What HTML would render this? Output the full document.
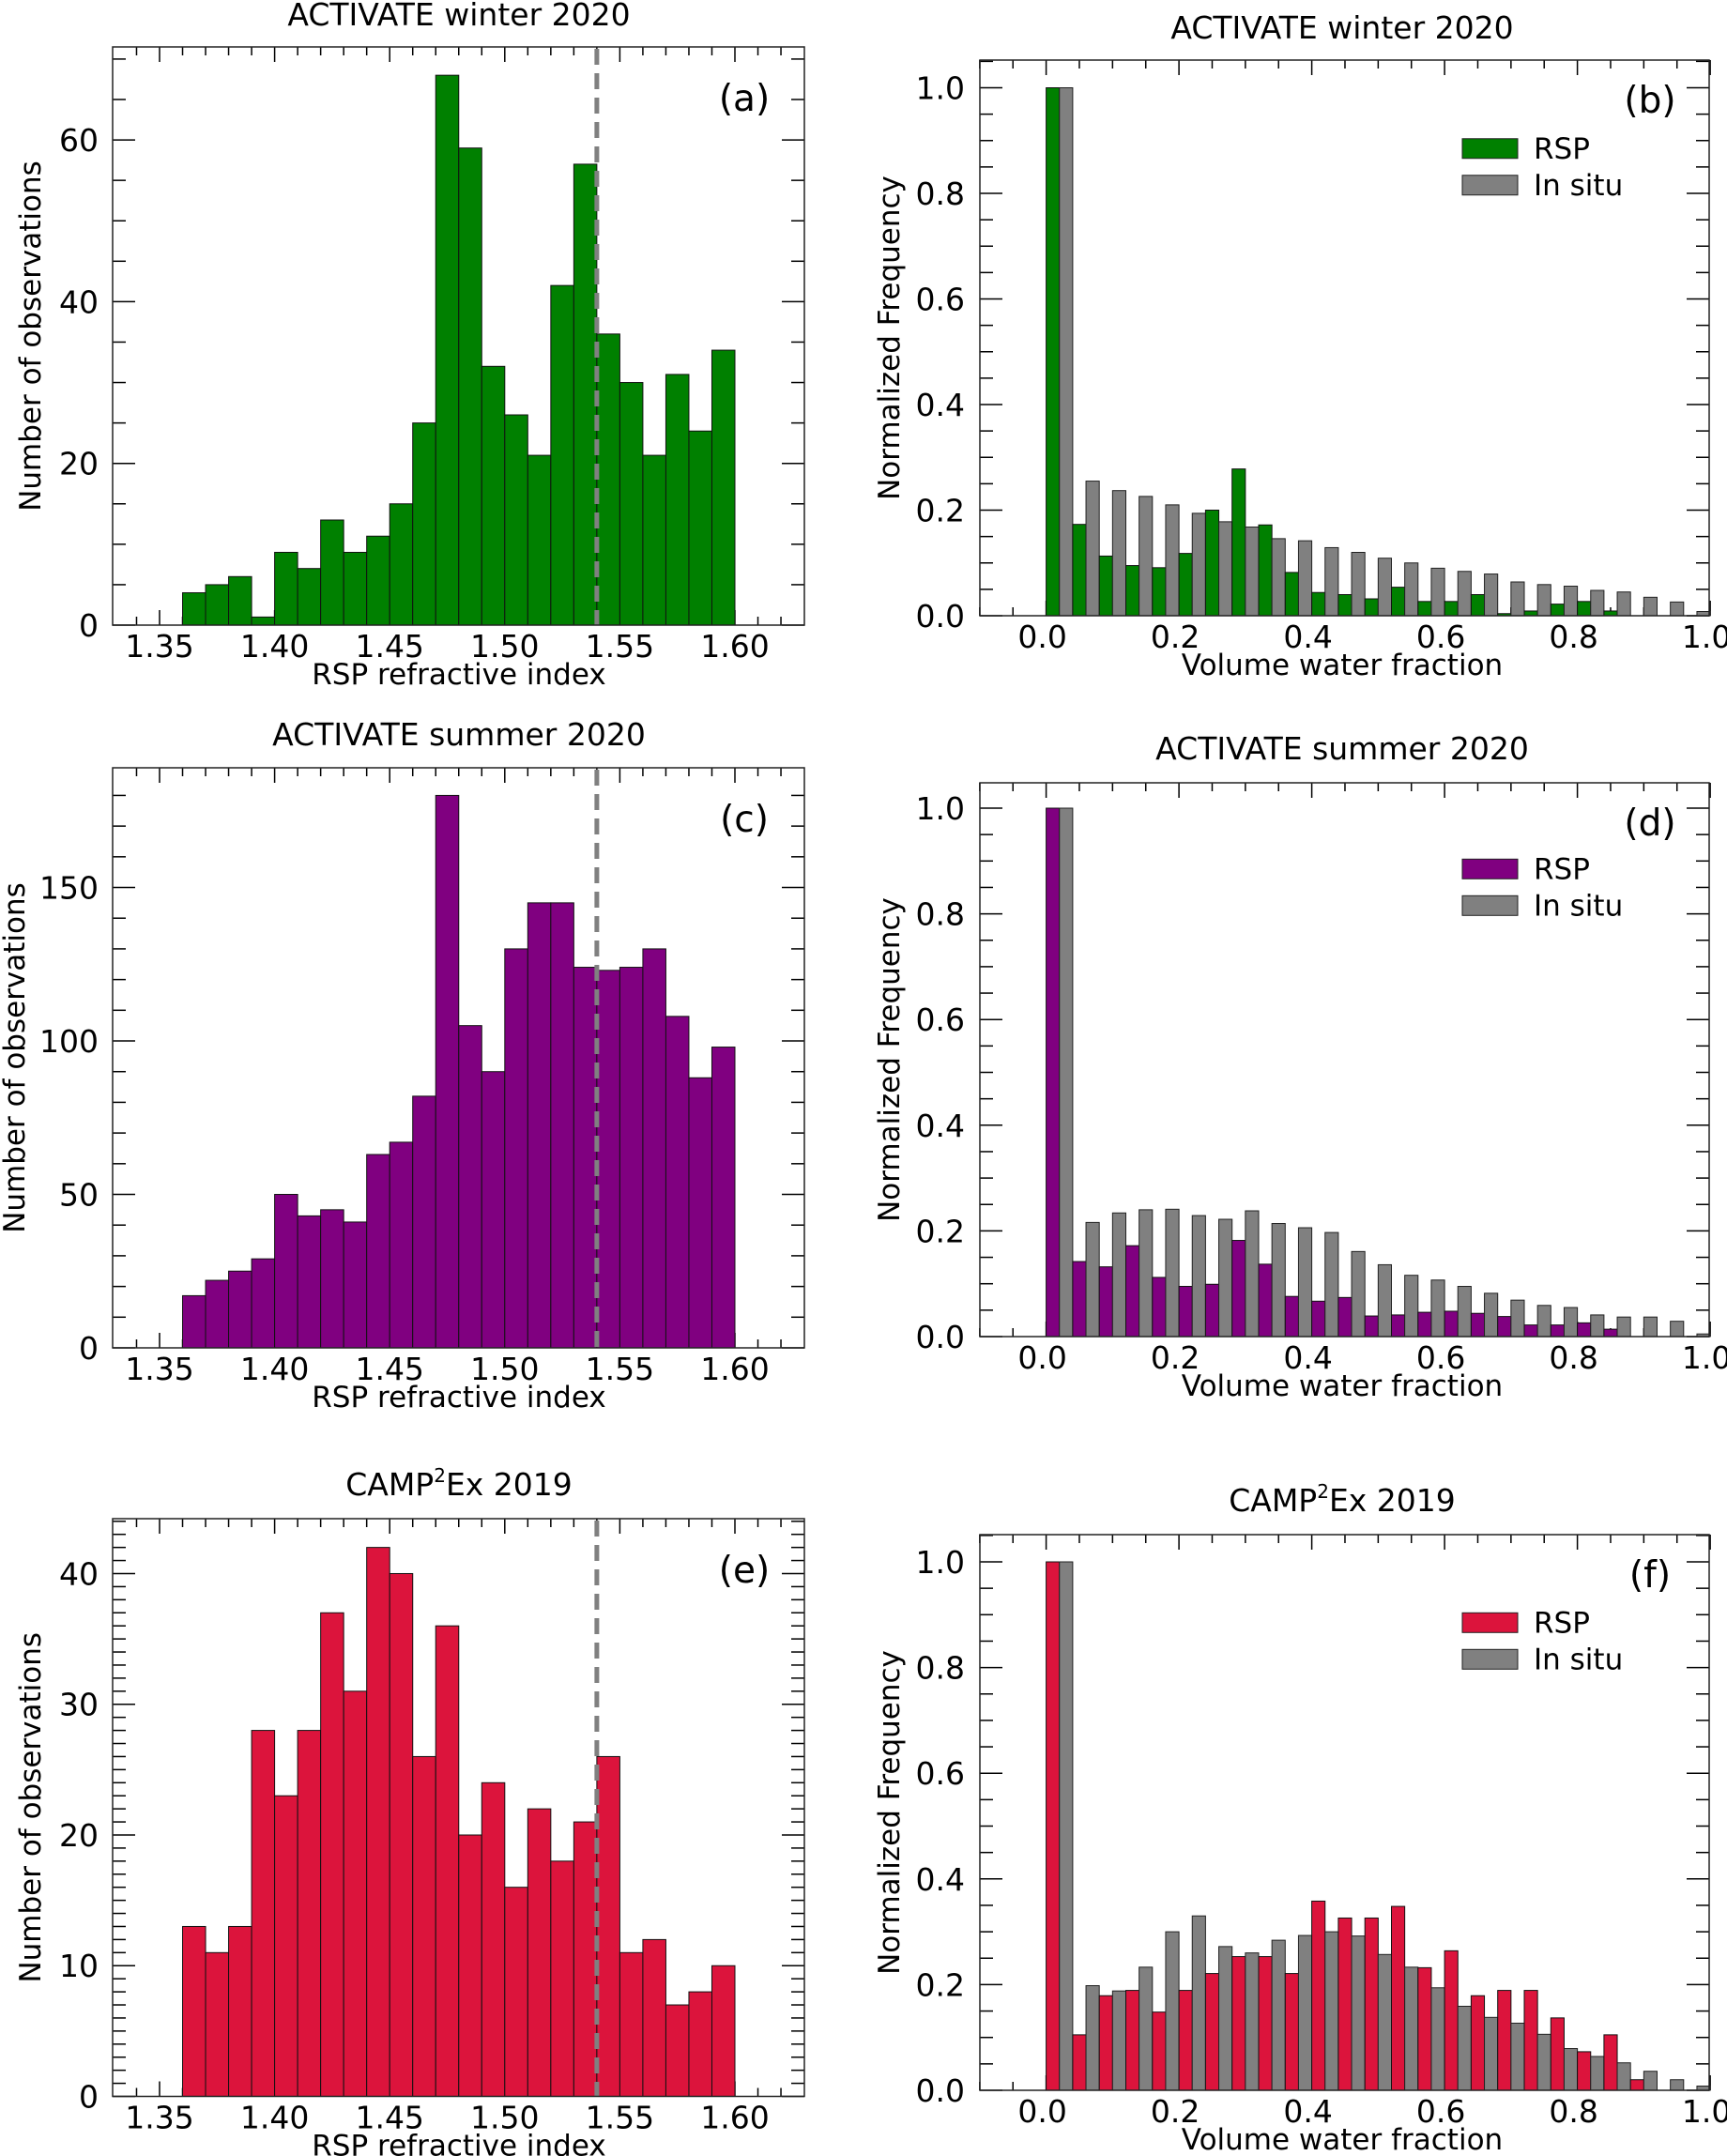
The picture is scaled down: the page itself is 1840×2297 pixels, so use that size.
<!DOCTYPE html>
<html><head><meta charset="utf-8"><style>
html,body{margin:0;padding:0;background:#fff;}
svg{display:block;font-family:"DejaVu Sans","Liberation Sans",sans-serif;}
</style></head><body>
<svg id="fig" xmlns="http://www.w3.org/2000/svg" width="1840" height="2297" viewBox="0 0 1840 2297"></svg>
<script>
// ---- data ----
const riBinStarts = [1.36,1.37,1.38,1.39,1.40,1.41,1.42,1.43,1.44,1.45,1.46,1.47,1.48,1.49,1.50,1.51,1.52,1.53,1.54,1.55,1.56,1.57,1.58,1.59];
const winterCounts = [4,5,6,1,9,7,13,9,11,15,25,68,59,32,26,21,42,57,36,30,21,31,24,34];
const summerCounts = [17,22,25,29,50,43,45,41,63,67,82,180,105,90,130,145,145,124,123,124,130,108,88,98];
const campCounts = [13,11,13,28,23,28,37,31,42,40,26,36,20,24,16,22,18,21,26,11,12,7,8,10];
const fracBinStarts = [0,0.04,0.08,0.12,0.16,0.20,0.24,0.28,0.32,0.36,0.40,0.44,0.48,0.52,0.56,0.60,0.64,0.68,0.72,0.76,0.80,0.84,0.88,0.92,0.96];
const winterRsp = [1.0,0.173,0.113,0.095,0.091,0.118,0.2,0.278,0.172,0.082,0.044,0.04,0.032,0.054,0.027,0.027,0.04,0.004,0.009,0.022,0.027,0.009,0,0,0];
const winterInsitu = [1.0,0.255,0.237,0.226,0.21,0.194,0.178,0.168,0.146,0.142,0.129,0.12,0.109,0.1,0.09,0.084,0.079,0.064,0.059,0.056,0.048,0.045,0.035,0.026,0.008];
const summerRsp = [1.0,0.142,0.132,0.172,0.112,0.095,0.099,0.182,0.137,0.076,0.067,0.074,0.039,0.041,0.046,0.048,0.044,0.038,0.022,0.022,0.026,0.014,0,0,0];
const summerInsitu = [1.0,0.216,0.234,0.24,0.241,0.229,0.222,0.238,0.214,0.206,0.197,0.161,0.136,0.116,0.107,0.095,0.082,0.069,0.059,0.055,0.041,0.037,0.037,0.029,0.005];
const campRsp = [1.0,0.105,0.179,0.189,0.148,0.189,0.221,0.253,0.253,0.221,0.358,0.326,0.326,0.348,0.232,0.264,0.179,0.189,0.189,0.137,0.073,0.105,0.02,0,0];
const campInsitu = [1.0,0.198,0.188,0.233,0.3,0.33,0.272,0.26,0.284,0.293,0.3,0.292,0.257,0.233,0.194,0.159,0.138,0.127,0.106,0.079,0.064,0.052,0.036,0.02,0.008];
const riTickLabels = ["1.35","1.40","1.45","1.50","1.55","1.60"];
const fracTickLabels = ["0.0","0.2","0.4","0.6","0.8","1.0"];
const refLine = 1.54;

const NS="http://www.w3.org/2000/svg";
const svg=document.getElementById('fig');
function mk(tag,attrs,parent){const e=document.createElementNS(NS,tag);for(const k in attrs)e.setAttribute(k,attrs[k]);(parent||svg).appendChild(e);return e;}
function txt(s,attrs,parent){const t=mk('text',attrs,parent);t.textContent=s;return t;}

function ticks(g,L,R,T,B,xs,ys){
  xs.forEach(([px,len])=>{mk('line',{x1:px,x2:px,y1:B,y2:B-len,stroke:'#000','stroke-width':1.5},g);mk('line',{x1:px,x2:px,y1:T,y2:T+len,stroke:'#000','stroke-width':1.5},g);});
  ys.forEach(([py,len])=>{mk('line',{x1:L,x2:L+len,y1:py,y2:py,stroke:'#000','stroke-width':1.5},g);mk('line',{x1:R,x2:R-len,y1:py,y2:py,stroke:'#000','stroke-width':1.5},g);});
}
function setTitle(t,title,sup){
  if(sup){t.innerHTML='CAMP<tspan font-size="20" dy="-14">2</tspan><tspan dy="14">Ex 2019</tspan>';}else t.textContent=title;
}

function histPanel(name,T,B,ymax,major,minor,counts,color,title,label,titleY,sup,ytx){
  const L=120,R=857;
  const X=v=>170+(v-1.35)*2452;
  const Y=v=>B-(v/ymax)*(B-T);
  const g=mk('g',{});
  
  
  const xs=[];for(let i=134;i<=162;i++){xs.push([X(i/100),i%5===0?16:9]);}
  const ys=[];for(let v=0;v<=ymax;v+=minor){ys.push([Y(v),(Math.round(v/major*1000)%1000===0)?24:14]);}
  ticks(g,L,R,T,B,xs,ys);
  counts.forEach((c,i)=>{const x0=X(riBinStarts[i]),x1=X(riBinStarts[i]+0.01);
    const r=mk('rect',{x:x0,y:Y(c),width:x1-x0,height:B-Y(c),fill:color,stroke:'#111','stroke-width':1},g);
    
    });
  const dl=mk('line',{x1:X(refLine),x2:X(refLine),y1:T+2,y2:B,stroke:'#808080','stroke-width':5,'stroke-dasharray':'17,9'},g);
  
  
  mk('rect',{x:L,y:T,width:R-L,height:B-T,fill:'none',stroke:'#222','stroke-width':1.5},g);
  riTickLabels.forEach(s=>{txt(s,{x:X(parseFloat(s)),y:B+34,'text-anchor':'middle','font-size':33},g);});
  for(let v=0;v<=ymax;v+=major){txt(String(v),{x:105,y:Y(v)+12,'text-anchor':'end','font-size':33},g);}
  txt('RSP refractive index',{x:489,y:B+63,'text-anchor':'middle','font-size':31},g);
  txt('Number of observations',{x:0,y:0,'text-anchor':'middle','font-size':31,transform:`translate(${ytx},${(T+B)/2}) rotate(-90)`},g);
  const t=txt('',{x:489,y:titleY+12,'text-anchor':'middle','font-size':33},g);
  setTitle(t,title,sup);
  txt(label,{x:793,y:T+68,'text-anchor':'middle','font-size':39},g);
}

function fracPanel(name,T,B,one,rsp,ins,color,title,label,titleY,sup){
  const L=1044,R=1821;
  const X=v=>1114.6+v*707.5;
  const Y=v=>B-v*(B-one);
  const g=mk('g',{});
  
  
  const xs=[];for(let i=-2;i<=20;i++){xs.push([X(i*0.05),i%4===0?16:9]);}
  const ys=[];for(let i=0;i*0.05<=(B-T)/(B-one);i++){ys.push([Y(i*0.05),i%4===0?24:14]);}
  ticks(g,L,R,T,B,xs,ys);
  fracBinStarts.forEach((s,i)=>{
    const a=X(s),m=X(s+0.02),b=X(s+0.04);
    if(rsp[i]>0){const r=mk('rect',{x:a,y:Y(rsp[i]),width:m-a,height:B-Y(rsp[i]),fill:color,stroke:'#111','stroke-width':1},g);
      
      }
    if(ins[i]>0){const r=mk('rect',{x:m,y:Y(ins[i]),width:b-m,height:B-Y(ins[i]),fill:'#808080',stroke:'#222','stroke-width':1},g);
      
      }
  });
  mk('rect',{x:L,y:T,width:R-L,height:B-T,fill:'none',stroke:'#222','stroke-width':1.5},g);
  fracTickLabels.forEach(s=>{txt(s,{x:X(parseFloat(s))-4,y:B+34,'text-anchor':'middle','font-size':33},g);});
  for(let i=0;i<=5;i++){txt((i*0.2).toFixed(1),{x:1028,y:Y(i*0.2)+12,'text-anchor':'end','font-size':33},g);}
  txt('Volume water fraction',{x:1430,y:B+63,'text-anchor':'middle','font-size':31},g);
  txt('Normalized Frequency',{x:0,y:0,'text-anchor':'middle','font-size':31,transform:`translate(958,${(T+B)/2}) rotate(-90)`},g);
  const t=txt('',{x:1430,y:titleY+12,'text-anchor':'middle','font-size':33},g);
  setTitle(t,title,sup);
  txt(label,{x:1758,y:T+56,'text-anchor':'middle','font-size':39},g);
  const ly=one+(B-one)*0.1+4;
  const lg=mk('g',{},g);
  
  
  mk('rect',{x:1558,y:ly-6,width:59,height:21,fill:color,stroke:'#222','stroke-width':1},lg);
  txt('RSP',{x:1634,y:ly+15,'font-size':31},lg);
  mk('rect',{x:1558,y:ly+33,width:59,height:21,fill:'#808080',stroke:'#222','stroke-width':1},lg);
  txt('In situ',{x:1634,y:ly+54,'font-size':31},lg);
}

histPanel('panel-a',50,666,71.5,20,5,winterCounts,'#008000','ACTIVATE winter 2020','(a)',15,false,43);
fracPanel('panel-b',64,656,93.5,winterRsp,winterInsitu,'#008000','ACTIVATE winter 2020','(b)',29,false);
histPanel('panel-c',818,1436,189,50,10,summerCounts,'#800080','ACTIVATE summer 2020','(c)',782,false,26);
fracPanel('panel-d',834,1424,861,summerRsp,summerInsitu,'#800080','ACTIVATE summer 2020','(d)',797,false);
histPanel('panel-e',1618,2233.5,44.2,10,1,campCounts,'#DC143C','','(e)',1581,true,43);
fracPanel('panel-f',1635,2227,1664,campRsp,campInsitu,'#DC143C','','(f)',1598,true);
</script>
</body></html>
